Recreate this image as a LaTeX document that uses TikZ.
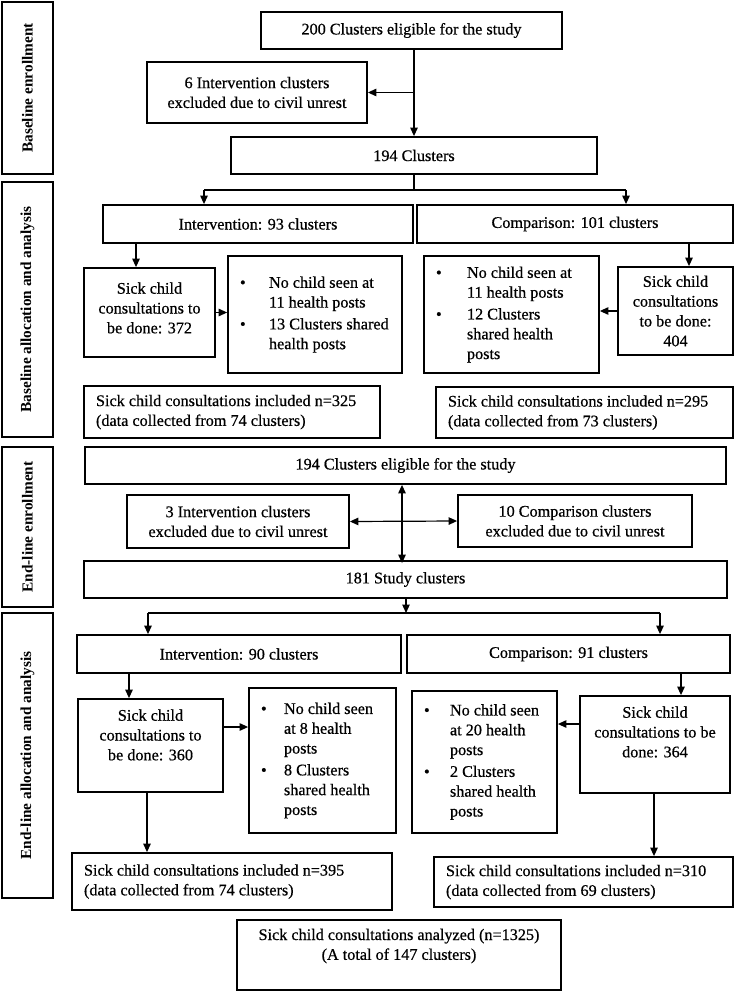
\documentclass[tikz,border=0pt]{standalone}
\usepackage{fontspec}
\setmainfont{Liberation Serif}[UprightFeatures={FakeBold=0.6}]
\usetikzlibrary{arrows.meta}
\newcommand{\bl}{\makebox[29pt][l]{•}}
\newcommand{\bs}{\hspace*{29pt}}
\newcommand{\lbox}[2]{\makebox[#1][l]{\begin{tabular}{@{}l@{}}#2\end{tabular}}}
\begin{document}
\begin{tikzpicture}[x=1pt,y=-1pt,
  every node/.style={font=\fontsize{16.2}{19.8}\selectfont},
  box/.style={draw, line width=1.8pt, inner sep=0pt, align=center},
  side/.style={draw, line width=1.8pt, inner sep=0pt, minimum width=51pt},
  sidetxt/.style={rotate=90, font=\fontsize{15.3}{18}\selectfont\bfseries},
  txt/.style={inner sep=0pt, align=center},
  arr/.style={line width=1.2pt, -{Triangle[length=8.5pt,width=7.5pt]}},
  darr/.style={line width=1.2pt, {Triangle[length=8.5pt,width=7.5pt]}-{Triangle[length=8.5pt,width=7.5pt]}},
  ln/.style={line width=1.2pt}]
\useasboundingbox (0,0) rectangle (744,992);
\fill[white] (0,0) rectangle (744,992);

% side labels
\node[side, minimum height=172pt] (L1) at (27.5,88) {};
\node[sidetxt] (L1t) at (L1.center) {Baseline enrollment};
\node[side, minimum height=255pt] (L2) at (27.5,309.5) {};
\node[sidetxt] (L2t) at (L2.center) {Baseline allocation and analysis};
\node[side, minimum height=160pt] (L3) at (27.5,527) {};
\node[sidetxt] (L3t) at (L3.center) {End-line enrollment};
\node[side, minimum height=285pt] (L4) at (27.5,755.5) {};
\node[sidetxt] (L4t) at (L4.center) {End-line allocation and analysis};

% baseline enrollment
\node[box, minimum width=301pt, minimum height=37pt] (top200) at (411.5,30.5) {200 Clusters eligible for the study};
\node[box, minimum width=220pt, minimum height=61pt] (excl6) at (257,92.5) {6 Intervention clusters\\excluded due to civil unrest};
\node[box, minimum width=366pt, minimum height=37pt] (c194) at (414,155.5) {194 Clusters};

% baseline allocation
\node[box, minimum width=310pt, minimum height=38pt] (int93) at (258,224) {Intervention: 93 clusters};
\node[box, minimum width=316pt, minimum height=38pt] (comp101) at (575,224) {Comparison: 101 clusters};
\node[box, minimum width=131pt, minimum height=89pt] (s372) at (149.5,312.5) {};
\node[txt] (s372t) at (149.5,308) {Sick child\\consultations to\\be done: 372};
\node[box, minimum width=174pt, minimum height=117pt] (b1) at (315,314.5) {\lbox{150pt}{\bl No child seen at\\\bs 11 health posts\\[2pt]\bl 13 Clusters shared\\\bs health posts}};
\node[box, minimum width=175pt, minimum height=117pt] (b2) at (511.5,314.5) {\lbox{151pt}{\makebox[31pt][l]{•}No child seen at\\\hspace*{31pt}11 health posts\\[2pt]\makebox[31pt][l]{•}12 Clusters\\\hspace*{31pt}shared health\\\hspace*{31pt}posts}};
\node[box, minimum width=115pt, minimum height=88pt] (s404) at (675.5,311) {Sick child\\consultations\\to be done:\\404};
\node[box, minimum width=296pt, minimum height=52pt] (inc325) at (232,412) {\lbox{272pt}{Sick child consultations included n=325\\(data collected from 74 clusters)}};
\node[box, minimum width=297pt, minimum height=51pt] (inc295) at (584.5,412.5) {\lbox{273pt}{Sick child consultations included n=295\\(data collected from 73 clusters)}};

% end-line enrollment
\node[box, minimum width=641pt, minimum height=37pt] (e194) at (405.5,465.5) {194 Clusters eligible for the study};
\node[box, minimum width=222pt, minimum height=53pt] (excl3) at (238,521.5) {3 Intervention clusters\\excluded due to civil unrest};
\node[box, minimum width=234pt, minimum height=52pt] (excl10) at (575,521) {10 Comparison clusters\\excluded due to civil unrest};
\node[box, minimum width=643pt, minimum height=37pt] (s181) at (405.5,579.5) {181 Study clusters};

% end-line allocation
\node[box, minimum width=324pt, minimum height=38pt] (int90) at (239,654) {Intervention: 90 clusters};
\node[box, minimum width=323pt, minimum height=38pt] (comp91) at (568.5,654) {Comparison: 91 clusters};
\node[box, minimum width=145pt, minimum height=93pt] (s360) at (150.5,745.5) {};
\node[txt] (s360t) at (150.5,735) {Sick child\\consultations to\\be done: 360};
\node[box, minimum width=147pt, minimum height=145pt] (b3) at (322.5,760.5) {\lbox{123pt}{\makebox[23pt][l]{•}No child seen\\\hspace*{23pt}at 8 health\\\hspace*{23pt}posts\\[2pt]\makebox[23pt][l]{•}8 Clusters\\\hspace*{23pt}shared health\\\hspace*{23pt}posts}};
\node[box, minimum width=145pt, minimum height=142pt] (b4) at (484.5,762) {\lbox{121pt}{\makebox[26pt][l]{•}No child seen\\\hspace*{26pt}at 20 health\\\hspace*{26pt}posts\\[2pt]\makebox[26pt][l]{•}2 Clusters\\\hspace*{26pt}shared health\\\hspace*{26pt}posts}};
\node[box, minimum width=150pt, minimum height=97pt] (s364) at (655,744.5) {};
\node[txt] (s364t) at (655,732) {Sick child\\consultations to be\\done: 364};
\node[box, minimum width=320pt, minimum height=57pt] (inc395) at (232,881.5) {\lbox{296pt}{Sick child consultations included n=395\\(data collected from 74 clusters)}};
\node[box, minimum width=299pt, minimum height=50pt] (inc310) at (583.5,882) {\lbox{275pt}{Sick child consultations included n=310\\(data collected from 69 clusters)}};
\node[box, minimum width=324pt, minimum height=70pt] (an) at (399,955) {};
\node[txt] (ant) at (399,946) {Sick child consultations analyzed (n=1325)\\(A total of 147 clusters)};

% coordinates
\coordinate (j1) at (414,190);
\coordinate (a1) at (204,190);
\coordinate (a2) at (626,190);
\coordinate (x136) at (136,0);
\coordinate (x689) at (689,0);
\coordinate (x402) at (402,0);
\coordinate (j2t) at (406,598);
\coordinate (j2) at (406,613);
\coordinate (a3) at (148,613);
\coordinate (a4) at (660,613);
\coordinate (x129) at (129,0);
\coordinate (x681) at (681,0);
\coordinate (x147) at (147,0);
\coordinate (x654) at (654,0);
\coordinate (y727) at (0,727);
\coordinate (y724) at (0,724);

% connectors baseline
\draw[arr] (top200.south -| c194.north) -- (c194.north);
\draw[arr] (c194.north |- excl6.east) -- (excl6.east);
\draw[ln] (c194.south) -- (j1);
\draw[ln] (a1) -- (a2);
\draw[arr] (a1) -- (a1 |- int93.north);
\draw[arr] (a2) -- (a2 |- comp101.north);
\draw[arr] (int93.south -| x136) -- (s372.north -| x136);
\draw[arr] (s372.east) -- (s372.east -| b1.west);
\draw[arr] (comp101.south -| x689) -- (s404.north -| x689);
\draw[arr] (s404.west) -- (s404.west -| b2.east);

% connectors end-line
\draw[darr] (e194.south -| x402) -- ([yshift=-3pt]s181.north -| x402);
\draw[darr] (excl3.east) -- (excl10.west);
\draw[arr] (s181.south -| j2t) -- (j2);
\draw[ln] (a3) -- (a4);
\draw[arr] (a3) -- (a3 |- int90.north);
\draw[arr] (a4) -- (a4 |- comp91.north);
\draw[arr] (int90.south -| x129) -- (s360.north -| x129);
\draw[arr] (s360.east |- y727) -- (b3.west |- y727);
\draw[arr] (comp91.south -| x681) -- (s364.north -| x681);
\draw[arr] (s364.west |- y724) -- (b4.east |- y724);
\draw[arr] (s360.south -| x147) -- (inc395.north -| x147);
\draw[arr] (s364.south -| x654) -- (inc310.north -| x654);
\end{tikzpicture}
\end{document}
